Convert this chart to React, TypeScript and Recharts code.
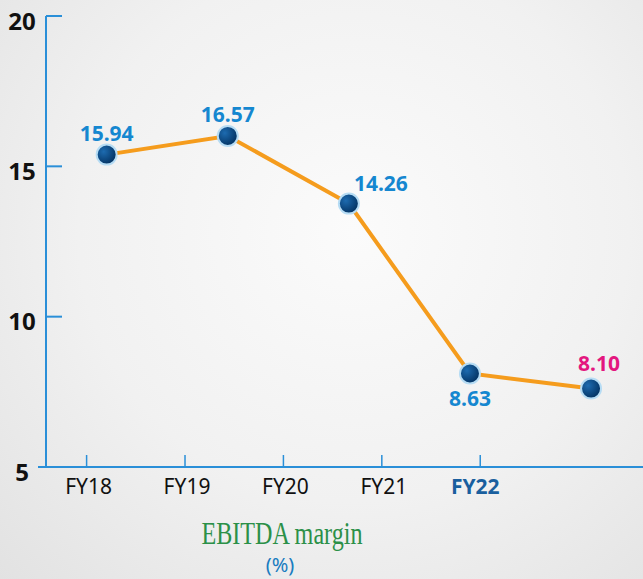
import React from "react";
import { LineChart, Line, XAxis, YAxis, LabelList } from "recharts";

const years = ["FY18", "FY19", "FY20", "FY21", "FY22"];
// where the dots sit on the picture
const margins = [15.39, 16.01, 13.76, 8.11, 7.61];
// the printed labels
const marginLabels = ["15.94", "16.57", "14.26", "8.63", "8.10"];
const yTicks = [5, 10, 15, 20];

const data = years.map((year, i) => ({
  idx: i,
  year,
  value: margins[i],
  label: marginLabels[i],
}));

const BLUE = "#2a8fd8";
const LABEL_BLUE = "#1587d0";
const PINK = "#e3177f";
const FONT = "'Noto Sans', sans-serif";

// label offsets from each dot
const labelOffsets = [
  { dx: 0, dy: -22 },
  { dx: 0, dy: -22 },
  { dx: 32, dy: -21 },
  { dx: 0, dy: 25 },
  { dx: 8, dy: -26 },
];

const YTick = (props: any) => {
  const { x, y, payload } = props;
  return (
    <g>
      <line x1={x} x2={x + 16} y1={y} y2={y} stroke={BLUE} strokeWidth={2} />
      <text
        x={x - 24}
        y={y + 4}
        textAnchor="middle"
        dominantBaseline="central"
        fontFamily={FONT}
        fontWeight={700}
        fontSize={24}
        fill="#111"
      >
        {payload.value}
      </text>
    </g>
  );
};

const XTick = (props: any) => {
  const { x, y, payload } = props;
  const last = payload.value === years.length - 1;
  return (
    <g>
      <line x1={x} x2={x} y1={y - 12} y2={y} stroke={BLUE} strokeWidth={1.5} />
      <text
        x={x + (last ? -5 : 2)}
        y={y + 19}
        textAnchor="middle"
        dominantBaseline="central"
        fontFamily={FONT}
        fontWeight={last ? 700 : 400}
        fontSize={21}
        fill={last ? "#1a5f9e" : "#111"}
      >
        {years[payload.value]}
      </text>
    </g>
  );
};

const Dot = (props: any) => {
  const { cx, cy, index } = props;
  if (cx == null || cy == null) return null;
  return (
    <circle
      key={`dot-${index}`}
      cx={cx}
      cy={cy}
      r={10}
      fill="url(#dotFill)"
      stroke="#b6dcf4"
      strokeWidth={2}
    />
  );
};

const ValueLabel = (props: any) => {
  const { x, y, value, index } = props;
  const off = labelOffsets[index] || { dx: 0, dy: -22 };
  const last = index === years.length - 1;
  return (
    <text
      x={x + off.dx}
      y={y + off.dy}
      textAnchor="middle"
      dominantBaseline="central"
      fontFamily={FONT}
      fontWeight={700}
      fontSize={21}
      fill={last ? PINK : LABEL_BLUE}
    >
      {value}
    </text>
  );
};

export default function App() {
  return (
    <div
      style={{
        position: "absolute",
        left: 0,
        top: 0,
        width: 643,
        height: 579,
        overflow: "hidden",
        background:
          "radial-gradient(ellipse at 55% 40%, #fbfbfb 0%, #f1f1f1 55%, #e2e2e2 100%)",
      }}
    >
      <LineChart
        width={643}
        height={579}
        data={data}
        margin={{ top: 16, right: 0, left: 0, bottom: 72 }}
      >
        <defs>
          <radialGradient id="dotFill" cx="35%" cy="35%" r="70%">
            <stop offset="0%" stopColor="#1d6bb0" />
            <stop offset="100%" stopColor="#02305f" />
          </radialGradient>
        </defs>
        <YAxis
          type="number"
          domain={[5, 20]}
          ticks={yTicks}
          interval={0}
          width={46}
          axisLine={{ stroke: BLUE, strokeWidth: 2 }}
          tickLine={false}
          tickSize={0}
          tickMargin={0}
          tick={<YTick />}
        />
        <XAxis
          xAxisId="a"
          type="number"
          dataKey="idx"
          domain={[-0.4126, 5.654]}
          allowDataOverflow
          ticks={[0, 1, 2, 3, 4]}
          interval={0}
          height={40}
          axisLine={{ stroke: BLUE, strokeWidth: 2 }}
          tickLine={false}
          tickSize={0}
          tickMargin={0}
          tick={<XTick />}
        />
        <XAxis
          xAxisId="b"
          type="number"
          dataKey="idx"
          domain={[-0.501, 4.429]}
          allowDataOverflow
          height={0}
          hide
        />
        <Line
          xAxisId="b"
          dataKey="value"
          stroke="#f59c1d"
          strokeWidth={4}
          dot={<Dot />}
          activeDot={false}
          isAnimationActive={false}
        >
          <LabelList dataKey="label" content={<ValueLabel />} />
        </Line>
      </LineChart>
      <svg
        width={643}
        height={579}
        style={{ position: "absolute", left: 0, top: 0, pointerEvents: "none" }}
      >
        <line x1={38} x2={47} y1={467} y2={467} stroke={BLUE} strokeWidth={2} />
        <text
          x={282}
          y={544}
          textAnchor="middle"
          fontFamily="'Liberation Serif', 'DejaVu Serif', serif"
          fontSize={31}
          textLength={161}
          lengthAdjust="spacingAndGlyphs"
          fill="#2b9048"
        >
          EBITDA margin
        </text>
        <text
          x={280}
          y={572}
          textAnchor="middle"
          fontFamily={FONT}
          fontSize={20}
          fill="#1a7cc0"
        >
          (%)
        </text>
      </svg>
    </div>
  );
}
